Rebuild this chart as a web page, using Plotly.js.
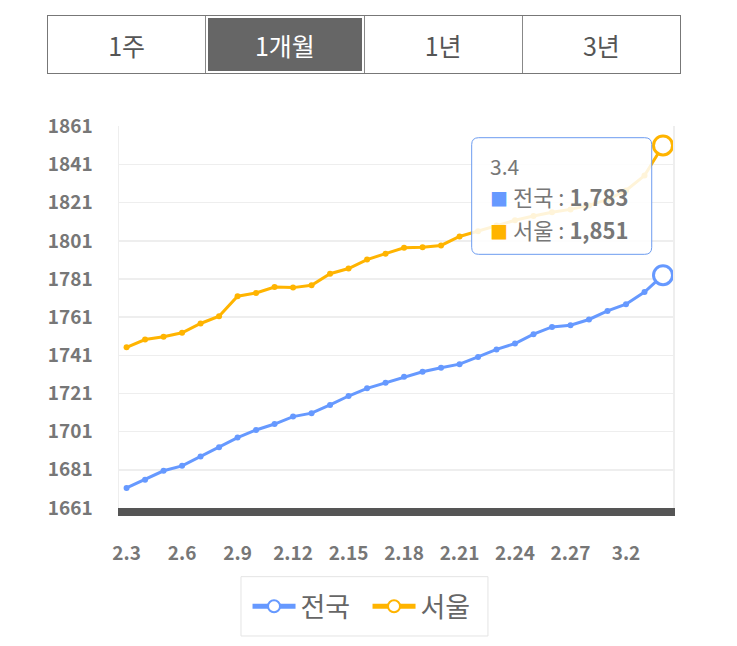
<!DOCTYPE html>
<html>
<head>
<meta charset="utf-8">
<script src="https://cdn.plot.ly/plotly-3.0.1.min.js"></script>
<style>
  body { margin: 0; background: #fff; font-family: "Noto Sans CJK KR", sans-serif; }
  #tabs {
    position: absolute; left: 47px; top: 15px; width: 632px; height: 57px;
    border: 1px solid #777; display: flex; z-index: 2; background: #fff;
  }
  #tabs div {
    flex: 1; display: flex; align-items: center; justify-content: center;
    font-size: 25px; color: #555; border-left: 1px solid #888;
  }
  #tabs div:first-child { border-left: none; }
  #tabs div.on { background: #666; color: #fff; box-shadow: inset 0 0 0 2px #fff; }
  #chart { position: absolute; left: 0; top: 0; width: 737px; height: 646px; }
</style>
</head>
<body>
<div id="tabs">
  <div>1주</div>
  <div class="on">1개월</div>
  <div>1년</div>
  <div>3년</div>
</div>
<div id="chart"></div>
<script>
var dates = ["2.3", "2.4", "2.5", "2.6", "2.7", "2.8", "2.9", "2.10", "2.11", "2.12",
             "2.13", "2.14", "2.15", "2.16", "2.17", "2.18", "2.19", "2.20", "2.21", "2.22",
             "2.23", "2.24", "2.25", "2.26", "2.27", "2.28", "3.1", "3.2", "3.3", "3.4"];
var tickLabels = ["2.3", "2.6", "2.9", "2.12", "2.15", "2.18", "2.21", "2.24", "2.27", "3.2"];
var yTicks = [1661, 1681, 1701, 1721, 1741, 1761, 1781, 1801, 1821, 1841, 1861];

var national = [1671.5, 1675.8, 1680.5, 1683.1, 1688, 1692.9, 1697.9, 1701.9, 1705, 1708.9,
                1710.7, 1715, 1719.7, 1723.7, 1726.7, 1729.8, 1732.4, 1734.5, 1736.4, 1740.2,
                1744.1, 1747.2, 1752.1, 1755.9, 1756.8, 1759.8, 1764.3, 1767.8, 1774.2, 1783];
var seoul = [1745.2, 1749.3, 1750.7, 1752.8, 1757.7, 1761.5, 1772, 1773.7, 1776.8, 1776.5,
             1777.7, 1783.8, 1786.5, 1791.2, 1794.3, 1797.4, 1797.7, 1798.6, 1803.3, 1806,
             1809, 1811.8, 1814, 1816, 1817.5, 1819.6, 1822.7, 1827.4, 1835.2, 1851];

var BLUE = "#6699ff", ORANGE = "#ffb400", GRAY = "#777";
var FONT = "Noto Sans CJK KR, Noto Sans, sans-serif";
var last = dates.length - 1;

function seriesLine(ys, color, name) {
    return {
        x: dates, y: ys, name: name, mode: "lines+markers",
        line: {color: color, width: 3},
        marker: {color: color, size: 6},
        showlegend: false, hoverinfo: "skip"
    };
}
// big open circle on the latest value, also used as the legend entry
function lastPoint(ys, color, name) {
    return {
        x: [dates[last]], y: [ys[last]], name: name, mode: "lines+markers",
        line: {color: color, width: 1.5},
        marker: {symbol: "circle", color: "#fff", size: 19, line: {color: color, width: 3}},
        hoverinfo: "skip"
    };
}

var data = [
    seriesLine(national, BLUE, "전국"),
    seriesLine(seoul, ORANGE, "서울"),
    lastPoint(national, BLUE, "전국"),
    lastPoint(seoul, ORANGE, "서울")
];

// rounded rect in paper coords
function roundRect(x0, y0, x1, y1, rx, ry) {
    return "M" + (x0 + rx) + "," + y1 + " L" + (x1 - rx) + "," + y1 +
        " Q" + x1 + "," + y1 + " " + x1 + "," + (y1 - ry) +
        " L" + x1 + "," + (y0 + ry) + " Q" + x1 + "," + y0 + " " + (x1 - rx) + "," + y0 +
        " L" + (x0 + rx) + "," + y0 + " Q" + x0 + "," + y0 + " " + x0 + "," + (y0 + ry) +
        " L" + x0 + "," + (y1 - ry) + " Q" + x0 + "," + y1 + " " + (x0 + rx) + "," + y1 + " Z";
}

function fmt(v) { return Math.round(v).toLocaleString("en-US"); }
function tipLine(color, name, v) {
    return "<span style='color:" + color + ";font-size:18px'>■</span> " + name + " : <b>" + fmt(v) + "</b>";
}

var layout = {
    width: 737, height: 646,
    margin: {l: 119, r: 64, t: 126, b: 138},
    paper_bgcolor: "#fff", plot_bgcolor: "#fff",
    font: {family: FONT, color: GRAY},
    showlegend: true,
    xaxis: {
        type: "category", range: [-0.41, 29.54],
        tickvals: tickLabels, ticktext: tickLabels,
        showgrid: false, zeroline: false,
        showline: true, linecolor: "#555", linewidth: 8,
        ticks: "", ticklabelstandoff: 21,
        tickfont: {family: FONT, size: 19, color: GRAY, weight: "bold"},
        fixedrange: true
    },
    yaxis: {
        range: [1661, 1861.2], tickvals: yTicks,
        showgrid: true, gridcolor: "#eeeeee", gridwidth: 1.5,
        zeroline: false, showline: true, mirror: true, linecolor: "#eeeeee", linewidth: 1.5,
        ticks: "", ticklabelstandoff: 21,
        tickfont: {family: FONT, size: 19, color: GRAY, weight: "bold"},
        fixedrange: true
    },
    legend: {
        orientation: "h", x: 0.232, xanchor: "left", y: -0.2584, yanchor: "middle",
        borderwidth: 0, itemsizing: "constant", itemwidth: 43, bgcolor: "rgba(0,0,0,0)",
        entrywidth: 62, entrywidthmode: "pixels",
        font: {family: FONT, size: 27, color: "#666"}
    },
    shapes: [{
        type: "path", xref: "paper", yref: "paper", layer: "above",
        path: roundRect(0.6366, 0.6641, 0.9616, 0.9694, 0.0126, 0.0183),
        fillcolor: "rgba(255,255,255,0.85)", line: {color: "#6d9cf0", width: 1}
    }, {
        type: "rect", xref: "paper", yref: "paper", layer: "below",
        x0: 0.2202, x1: 0.666, y0: -0.335, y1: -0.1798,
        fillcolor: "rgba(0,0,0,0)", line: {color: "#e4e4e4", width: 1}
    }],
    annotations: [
        {xref: "paper", yref: "paper", x: 0.6655, y: 0.896, xanchor: "left", yanchor: "middle",
         showarrow: false, text: dates[last], font: {family: FONT, size: 21, color: GRAY}},
        {xref: "paper", yref: "paper", x: 0.6655, y: 0.8176, xanchor: "left", yanchor: "middle",
         showarrow: false, text: tipLine(BLUE, "전국", national[last]),
         font: {family: FONT, size: 22, color: GRAY}},
        {xref: "paper", yref: "paper", x: 0.6655, y: 0.7304, xanchor: "left", yanchor: "middle",
         showarrow: false, text: tipLine(ORANGE, "서울", seoul[last]),
         font: {family: FONT, size: 22, color: GRAY}}
    ]
};

Plotly.newPlot("chart", data, layout, {displayModeBar: false, staticPlot: true});
</script>
</body>
</html>
